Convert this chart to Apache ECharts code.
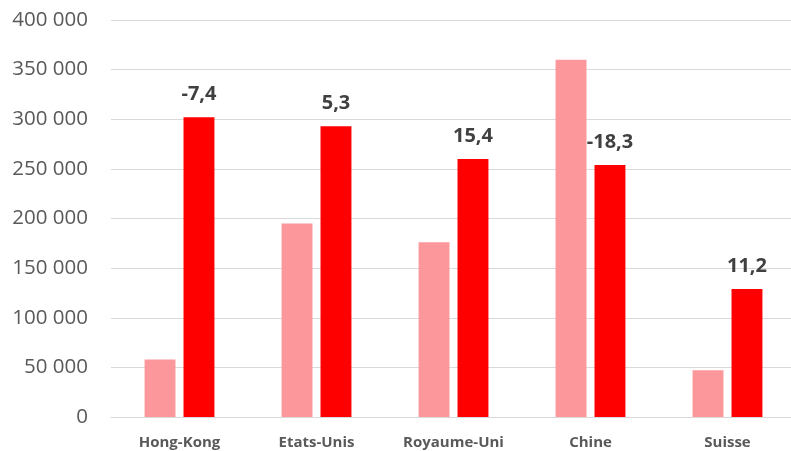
<!DOCTYPE html>
<html>
<head>
<meta charset="utf-8">
<script src="https://cdn.jsdelivr.net/npm/echarts@6/dist/echarts.min.js"></script>
<style>html,body{margin:0;padding:0;background:#fff;overflow:hidden;}#c{width:791px;height:451px;}</style>
</head>
<body>
<div id="c"></div>
<script>
const categories = ['Hong-Kong', 'Etats-Unis', 'Royaume-Uni', 'Chine', 'Suisse'];
const seriesA = [58000, 195000, 176000, 360000, 47000];
const seriesB = [302000, 293000, 260000, 254000, 129000];
const changeLabels = ['-7,4', '5,3', '15,4', '-18,3', '11,2'];
const yMin = 0, yMax = 400000, yStep = 50000;

const chart = echarts.init(document.getElementById('c'), null, {renderer: 'canvas'});
const fmt = v => {
  const s = String(Math.round(v));
  return s.replace(/\B(?=(\d{3})+(?!\d))/g, ' ');
};
chart.setOption({
  animation: false,
  textStyle: {fontFamily: 'Open Sans'},
  grid: {left: 111, width: 685, top: 20, height: 397, containLabel: false, outerBoundsMode: 'none'},
  xAxis: {
    type: 'category',
    data: categories,
    axisLine: {show: true, lineStyle: {color: '#d9d9d9', width: 1}},
    axisTick: {show: false},
    axisLabel: {color: '#595959', fontWeight: 'bold', fontSize: 15, margin: 18, fontFamily: 'Open Sans'}
  },
  yAxis: {
    type: 'value',
    min: yMin, max: yMax, interval: yStep,
    axisLine: {show: false},
    axisTick: {show: false},
    splitLine: {lineStyle: {color: '#d9d9d9', width: 1}},
    axisLabel: {color: '#595959', fontSize: 20.5, margin: 23, formatter: fmt, fontFamily: 'Open Sans'}
  },
  series: [
    {
      type: 'bar', data: seriesA,
      itemStyle: {color: '#fc979b'},
      barGap: '26%', barCategoryGap: '49%'
    },
    {
      type: 'bar', data: seriesB,
      itemStyle: {color: '#ff0000'},
      label: {
        show: true, position: 'top', distance: 13,
        color: '#404040', fontWeight: 'bold', fontSize: 20, fontFamily: 'Open Sans',
        formatter: p => changeLabels[p.dataIndex]
      }
    }
  ]
});
</script>
</body>
</html>
